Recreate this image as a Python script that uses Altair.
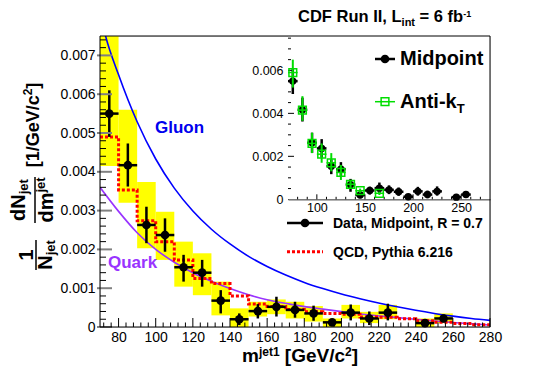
import altair as alt
import pandas as pd

FONT = "Liberation Sans"

# ---------------- data ----------------
bin_lo = [70, 80, 90, 100, 110, 120, 130, 140, 150, 160, 170, 180, 190, 200, 210, 220, 230, 240, 250, 260, 270]
bin_hi = [80, 90, 100, 110, 120, 130, 140, 150, 160, 170, 180, 190, 200, 210, 220, 230, 240, 250, 260, 270, 280]
qcd = [0.0049, 0.00353, 0.00274, 0.0022, 0.00173, 0.00125, 0.00112, 0.0008, 0.00059, 0.00053, 0.00045,
       0.00039, 0.00035, 0.00033, 0.00026, 0.00025, 0.00021, 0.00016, 0.00012, 0.00009, 0.00006]

pt_x = [75, 85, 95, 105, 115, 125, 135, 145, 155, 165, 175, 185, 195, 205, 215, 225, 245, 255]
pt_y = [0.0055, 0.00417, 0.00263, 0.00237, 0.00154, 0.0014, 0.00068, 0.0002, 0.00041, 0.00052, 0.00044,
        0.00035, 0.00012, 0.00037, 0.00022, 0.00037, 0.0001, 0.00022]
pt_lo = [0.0049, 0.00362, 0.00216, 0.00194, 0.00117, 0.00104, 0.00035, 0.00005, 0.00022, 0.00027, 0.00024,
         0.00016, 0.00004, 0.00017, 0.00005, 0.00017, 0.00002, 0.00012]
pt_hi = [0.0061, 0.00473, 0.0031, 0.0028, 0.00186, 0.00173, 0.00095, 0.00035, 0.00059, 0.00078, 0.00065,
         0.00055, 0.0002, 0.00058, 0.0004, 0.0006, 0.00018, 0.00032]
sys_lo = [0.00415, 0.0032, 0.00203, 0.00173, 0.00104, 0.00082, 0.0003, 0.0, 0.00027, 0.00033, 0.00022,
          0.00014, 0.0, 0.00022, 0.0001, 0.0002, 0.0, 0.0001]
sys_hi = [0.008, 0.0056, 0.00374, 0.00297, 0.0022, 0.0019, 0.00117, 0.00048, 0.00065, 0.00071, 0.00065,
          0.00054, 0.00022, 0.00057, 0.00039, 0.00057, 0.00022, 0.00035]

glu_x = [70, 73, 80, 90, 100, 110, 120, 130, 140, 150, 160, 170, 180, 190, 200, 210, 220, 230, 240,
         250, 260, 270, 280]
glu_y = [0.0081, 0.0075, 0.0065, 0.00529, 0.00433, 0.00358, 0.00299, 0.00252, 0.00214, 0.00182, 0.00156,
         0.00134, 0.00115, 0.00099, 0.00085, 0.00073, 0.00062, 0.00052, 0.00043, 0.00035, 0.00028,
         0.00022, 0.00017]

qrk_x = [70, 80, 90, 100, 110, 120, 130, 140, 150, 160, 172, 190, 208, 226, 244, 262, 280]
qrk_y = [0.0036, 0.00298, 0.00243, 0.002, 0.00167, 0.0014, 0.00118, 0.00099, 0.00083, 0.0007, 0.00059,
         0.00046, 0.00035, 0.00026, 0.00018, 0.00011, 0.00005]

ak_x = [75, 85, 95, 105, 115, 125, 135, 145, 165]
ak_y = [0.0059, 0.00415, 0.0026, 0.0021, 0.0017, 0.00125, 0.0007, 0.0004, 0.00028]
ak_lo = [0.0052, 0.00365, 0.00215, 0.0017, 0.0013, 0.0009, 0.0005, 0.0003, 0.0002]
ak_hi = [0.0065, 0.0048, 0.0031, 0.0026, 0.00215, 0.0016, 0.0009, 0.0005, 0.00036]

main_x_ticks = [80, 100, 120, 140, 160, 180, 200, 220, 240, 260, 280]
main_y_ticks = [0, 0.001, 0.002, 0.003, 0.004, 0.005, 0.006, 0.007]
inset_x_ticks = [100, 150, 200, 250]
inset_y_ticks = [0, 0.002, 0.004, 0.006]

# ---------------- frames ----------------
W, H = 390, 291
IX0, IX1, IY1 = 188, 390, 163.3

pts = pd.DataFrame(dict(x=pt_x, y=pt_y, lo=pt_lo, hi=pt_hi, slo=sys_lo, shi=sys_hi))
pts["x0"] = pts["x"] - 5
pts["x1"] = pts["x"] + 5
hist = pd.DataFrame(dict(x=bin_lo + [bin_hi[-1]], y=qcd + [qcd[-1]]))
glu = pd.DataFrame(dict(x=glu_x, y=glu_y))
qrk = pd.DataFrame(dict(x=qrk_x, y=qrk_y))
ak = pd.DataFrame(dict(x=ak_x, y=ak_y, lo=ak_lo, hi=ak_hi))
ak["x0"] = ak["x"] - 5
ak["x1"] = ak["x"] + 5

LBL = "datum.value == 0 ? '0' : format(datum.value, '.3f')"
XS = alt.Scale(domain=[70, 280], nice=False, zero=False)
YS = alt.Scale(domain=[0, 0.0075], nice=False, zero=False)
XI = alt.Scale(domain=[70, 280], range=[IX0, IX1], nice=False, zero=False)
YI = alt.Scale(domain=[0, 0.0076], range=[IY1, 0], nice=False, zero=False)
AXM = alt.Axis(values=main_x_ticks, title=None, ticks=False, tickSize=0, domain=False, grid=False,
               labelFontSize=14, labelPadding=3, labelFlush=False, labelOverlap=False, format="d")
AYM = alt.Axis(values=main_y_ticks, title=None, ticks=False, tickSize=0, domain=False, grid=False,
               labelFontSize=14, labelPadding=5, labelOverlap=False, labelExpr=LBL)
AXI = alt.Axis(values=inset_x_ticks, orient="bottom", offset=-(H - IY1), title=None, ticks=False,
               tickSize=0, domain=True, domainColor="black", domainWidth=1, grid=False,
               labelFontSize=12.5, labelPadding=2, labelFlush=False, labelOverlap=False, format="d")
AYI = alt.Axis(values=inset_y_ticks, orient="left", offset=-IX0, title=None, ticks=False, tickSize=0,
               domain=True, domainColor="black", domainWidth=1, grid=False,
               labelFontSize=12.5, labelPadding=5, labelOverlap=False, labelExpr=LBL)


def mx(f): return alt.X(f, type="quantitative", scale=XS, axis=AXM)
def my(f): return alt.Y(f, type="quantitative", scale=YS, axis=AYM)
def ix(f): return alt.X(f, type="quantitative", scale=XI, axis=AXI)
def iy(f): return alt.Y(f, type="quantitative", scale=YI, axis=AYI)


# Arial/Helvetica bold advance widths
WID = {' ': 278, ',': 278, '-': 333, '.': 278, '/': 278, '=': 584, '[': 333, ']': 333,
       'A': 722, 'C': 722, 'D': 722, 'F': 611, 'G': 778, 'I': 278, 'L': 611, 'M': 833, 'N': 722,
       'P': 667, 'Q': 778, 'R': 722, 'T': 611, 'V': 667, 'a': 556, 'b': 611, 'c': 556, 'd': 611,
       'e': 556, 'f': 333, 'h': 611, 'i': 278, 'j': 278, 'k': 556, 'l': 278, 'm': 889, 'n': 611,
       'o': 611, 'p': 611, 'r': 389, 't': 333, 'u': 611, 'y': 556}


def tw(s, size):
    return sum(WID.get(c, 556) for c in s) / 1000.0 * size


one = pd.DataFrame({"a": [0]})


def txt(t, x, y, size, color="black", align="left", baseline="alphabetic", angle=0):
    return alt.Chart(one).mark_text(text=t, font=FONT, fontSize=size, fontWeight="bold", color=color,
                                    align=align, baseline=baseline, angle=angle).encode(
        x=alt.value(x), y=alt.value(y))


def htext(pieces, x0, base, color="black"):
    out, x = [], x0
    for t, s, dy in pieces:
        lead = len(t) - len(t.lstrip(" "))
        out.append(txt(t.strip(" "), x + tw(" " * lead, s), base + dy, s, color))
        x += tw(t, s)
    return out


def vtext(pieces, xc, ybot):
    out, y = [], ybot
    for t, s, dx in pieces:
        w = tw(t, s)
        out.append(txt(t, xc + dx, y - w / 2, s, align="center", baseline="middle", angle=270))
        y -= w
    return out


def hrule(x0, x1, y, color="black", width=1.0, dash=None):
    kw = dict(color=color, strokeWidth=width)
    if dash:
        kw["strokeDash"] = dash
    return alt.Chart(one).mark_rule(**kw).encode(x=alt.value(x0), x2=alt.value(x1), y=alt.value(y))


def vrule(x, y0, y1, width=1.5):
    return alt.Chart(one).mark_rule(color="black", strokeWidth=width).encode(
        x=alt.value(x), y=alt.value(y0), y2=alt.value(y1))


# ---------------- main plot ----------------
yellow = alt.Chart(pts).mark_rect(color="#ffff00", clip=True).encode(
    x=mx("x0"), x2="x1", y=my("slo"), y2="shi")
gl = alt.Chart(glu).mark_line(color="#0000ff", strokeWidth=1.6, interpolate="monotone", clip=True).encode(
    x=mx("x"), y=my("y"))
ql = alt.Chart(qrk).mark_line(color="#9933ff", strokeWidth=1.6, interpolate="monotone", clip=True).encode(
    x=mx("x"), y=my("y"))
hl = alt.Chart(hist).mark_line(color="#ff0000", strokeWidth=3, strokeDash=[3, 2],
                               interpolate="step-after").encode(x=mx("x"), y=my("y"))
exb = alt.Chart(pts).mark_rule(color="black", strokeWidth=2.5).encode(x=mx("x0"), x2="x1", y=my("y"))
eyb = alt.Chart(pts).mark_rule(color="black", strokeWidth=2.5).encode(x=mx("x"), y=my("lo"), y2="hi")
dots = alt.Chart(pts).mark_circle(color="black", size=75, opacity=1).encode(x=mx("x"), y=my("y"))

ymin = [round(0.0002 * k, 4) for k in range(1, 38) if k % 5]
xmin = [v for v in range(72, 280, 4) if v % 20]
tk_ymaj = alt.Chart(pd.DataFrame({"v": main_y_ticks})).mark_rule(color="#808080", strokeWidth=2).encode(
    y=my("v"), x=alt.value(-3), x2=alt.value(12))
tk_ymin = alt.Chart(pd.DataFrame({"v": ymin})).mark_rule(color="black", strokeWidth=1).encode(
    y=my("v"), x=alt.value(0), x2=alt.value(6))
tk_xmaj = alt.Chart(pd.DataFrame({"v": main_x_ticks})).mark_rule(color="black", strokeWidth=1).encode(
    x=mx("v"), y=alt.value(H), y2=alt.value(H - 9))
tk_xmin = alt.Chart(pd.DataFrame({"v": xmin})).mark_rule(color="black", strokeWidth=1).encode(
    x=mx("v"), y=alt.value(H), y2=alt.value(H - 4.5))

annots = []
annots.append(txt("Gluon", 55, 97, 17, color="#0000ee"))
annots.append(txt("Quark", 8, 232, 17, color="#9933ff"))
# legend below inset
annots.append(hrule(187, 223, 187, width=2.5))
annots.append(alt.Chart(one).mark_circle(color="black", size=75, opacity=1).encode(
    x=alt.value(205), y=alt.value(187)))
annots.append(txt("Data, Midpoint, R = 0.7", 233, 192.3, 14))
annots.append(hrule(187, 223, 215.7, color="#ff0000", width=3, dash=[3, 2]))
annots.append(txt("QCD, Pythia 6.216", 233, 220.7, 14))
# title
annots += htext([("CDF Run II, L", 16.5, 0), ("int", 11, 4), (" = 6 fb", 16.5, 0), ("-1", 9, -5)], 198, -14)
# x title
annots += htext([("m", 19, 0), ("jet1", 12, -6), (" [GeV/c", 19, 0), ("2", 12, -6), ("]", 19, 0)], 142, 326)
# y title (rotated fractions)
annots.append(txt("1", -73, 219, 20, align="center", baseline="middle", angle=270))
annots.append(vrule(-64, 204, 234))
annots += vtext([("N", 20, 0), ("jet", 13, 5)], -54, 219 + (tw("N", 20) + tw("jet", 13)) / 2)
annots += vtext([("dN", 20, 0), ("jet", 13, 5)], -81, 164 + (tw("dN", 20) + tw("jet", 13)) / 2)
annots.append(vrule(-65, 141, 187))
annots += vtext([("dm", 20, 0), ("jet", 13, -6)], -53, 164 + (tw("dm", 20) + tw("jet", 13)) / 2)
annots += vtext([("[1/GeV/c", 18, 0), ("2", 12, -6), ("]", 18, 0)], -66,
                89 + (tw("[1/GeV/c", 18) + tw("2", 12) + tw("]", 18)) / 2)

main = alt.layer(yellow, gl, ql, hl, exb, eyb, dots, tk_ymaj, tk_ymin, tk_xmaj, tk_xmin, *annots)

# ---------------- inset ----------------
bg = alt.Chart(one).mark_rect(color="white").encode(
    x=alt.XDatum(70, scale=XI, axis=AXI), x2=alt.X2Datum(280),
    y=alt.YDatum(0.0076, scale=YI, axis=AYI), y2=alt.Y2Datum(0))
iymin = [round(0.0005 * k, 4) for k in range(1, 16) if k % 4]
ixmin = [v for v in range(80, 280, 10) if v % 50]
itk = [
    alt.Chart(pd.DataFrame({"v": inset_y_ticks[1:]})).mark_rule(color="black").encode(
        y=iy("v"), x=alt.value(IX0), x2=alt.value(IX0 + 6)),
    alt.Chart(pd.DataFrame({"v": iymin})).mark_rule(color="black").encode(
        y=iy("v"), x=alt.value(IX0), x2=alt.value(IX0 + 3)),
    alt.Chart(pd.DataFrame({"v": inset_x_ticks})).mark_rule(color="black").encode(
        x=ix("v"), y=alt.value(IY1), y2=alt.value(IY1 - 5)),
    alt.Chart(pd.DataFrame({"v": ixmin})).mark_rule(color="black").encode(
        x=ix("v"), y=alt.value(IY1), y2=alt.value(IY1 - 2.5)),
]
GREEN = "#00dd00"
iex = alt.Chart(pts).mark_rule(color="black", strokeWidth=2.5).encode(x=ix("x0"), x2="x1", y=iy("y"))
iey = alt.Chart(pts).mark_rule(color="black", strokeWidth=2.5).encode(x=ix("x"), y=iy("lo"), y2="hi")
idot = alt.Chart(pts).mark_circle(color="black", size=55, opacity=1).encode(x=ix("x"), y=iy("y"))
gex = alt.Chart(ak).mark_rule(color=GREEN, strokeWidth=1.5).encode(x=ix("x0"), x2="x1", y=iy("y"))
gey = alt.Chart(ak).mark_rule(color=GREEN, strokeWidth=2).encode(x=ix("x"), y=iy("lo"), y2="hi")
gsq = alt.Chart(ak).mark_point(shape="square", filled=False, color=GREEN, size=60, strokeWidth=1.5,
                               opacity=1).encode(x=ix("x"), y=iy("y"))
ileg = [
    hrule(275, 295, 23, width=2.5),
    alt.Chart(one).mark_circle(color="black", size=75, opacity=1).encode(x=alt.value(285), y=alt.value(23)),
    txt("Midpoint", 300, 29, 20),
    hrule(275, 295, 65.7, color=GREEN, width=1.5),
    alt.Chart(one).mark_point(shape="square", filled=False, color=GREEN, size=60, strokeWidth=1.5,
                              opacity=1).encode(x=alt.value(285), y=alt.value(65.7)),
    txt("Anti-k", 300, 72.3, 20),
    txt("T", 300 + tw("Anti-k", 20), 77, 13),
]
inset = alt.layer(bg, *itk, iex, iey, idot, gex, gey, gsq, *ileg)

frame = alt.Chart(one).mark_rect(fillOpacity=0, stroke="black", strokeWidth=1).encode(
    x=alt.value(0), x2=alt.value(W), y=alt.value(0), y2=alt.value(H))

chart = alt.layer(main, inset, frame).resolve_scale(x="independent", y="independent").properties(
    width=W, height=H, autosize=alt.AutoSizeParams(type="none"),
    padding={"left": 92, "top": 28, "right": 20, "bottom": 40},
).configure_view(stroke=None).configure_axis(
    labelFont=FONT, labelFontWeight="bold", labelColor="black", grid=False
).configure(font=FONT)

chart.save("out.html", embed_options={"renderer": "svg", "actions": False})
